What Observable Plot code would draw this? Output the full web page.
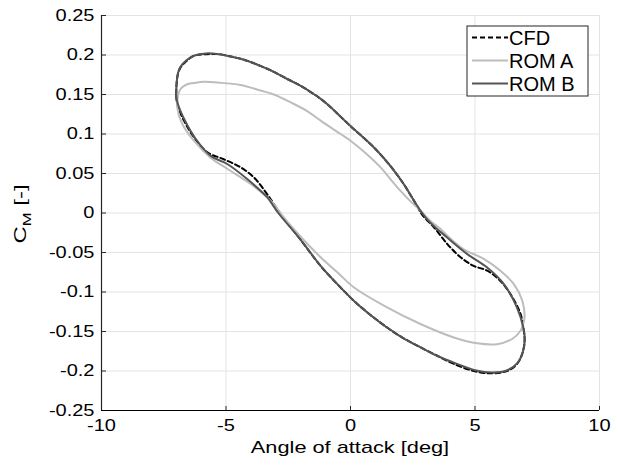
<!DOCTYPE html>
<html>
<head>
<meta charset="utf-8">
<script src="https://cdn.jsdelivr.net/npm/d3@7"></script>
<script src="https://cdn.jsdelivr.net/npm/@observablehq/plot@0.6"></script>
<style>
  html, body { margin: 0; padding: 0; background: #fff; }
  #chart { width: 618px; height: 465px; }
  svg { display: block; }
</style>
</head>
<body>
<div id="chart"></div>
<script>
// ---- Data ----
const xTicks = [-10, -5, 0, 5, 10];
const yTicks = [-0.25, -0.2, -0.15, -0.1, -0.05, 0, 0.05, 0.1, 0.15, 0.2, 0.25];

const seriesNames = ["CFD", "ROM A", "ROM B"];

const cfdAlpha = [-7.00, -6.98, -6.93, -6.83, -6.60, -6.29, -5.80, -5.29, -4.80, -4.28, -3.60, -3.10, -2.50, -2.00, -1.40, -0.94, -0.40, 0.00, 0.50, 0.94, 1.35, 1.74, 2.15, 2.54, 2.90, 3.35, 3.88, 4.42, 4.95, 5.49, 6.02, 6.43, 6.83, 6.96, 6.99, 6.90, 6.69, 6.29, 5.62, 4.95, 4.15, 3.50, 2.81, 2.10, 1.47, 0.80, 0.13, -0.53, -1.20, -2.00, -2.81, -3.35, -3.88, -4.42, -5.09, -5.76, -6.29, -6.69, -6.96, -7.00];
const cfdCm = [0.150, 0.165, 0.176, 0.184, 0.192, 0.199, 0.201, 0.201, 0.198, 0.194, 0.186, 0.179, 0.169, 0.161, 0.149, 0.138, 0.122, 0.110, 0.096, 0.083, 0.069, 0.054, 0.036, 0.016, -0.003, -0.018, -0.039, -0.056, -0.067, -0.073, -0.086, -0.103, -0.128, -0.149, -0.162, -0.178, -0.191, -0.200, -0.203, -0.200, -0.191, -0.181, -0.170, -0.158, -0.145, -0.129, -0.111, -0.090, -0.067, -0.034, -0.001, 0.024, 0.045, 0.058, 0.068, 0.077, 0.096, 0.117, 0.138, 0.150];

const romAAlpha = [-6.92, -6.80, -6.56, -6.20, -5.89, -5.29, -4.42, -3.61, -3.08, -2.40, -1.74, -1.20, -0.40, 0.00, 0.60, 1.20, 1.60, 2.01, 2.40, 2.81, 3.21, 3.61, 4.00, 4.55, 5.35, 6.02, 6.56, 6.90, 6.99, 6.92, 6.83, 6.49, 5.89, 5.09, 4.15, 2.81, 1.47, 0.13, -0.53, -1.20, -2.00, -2.68, -3.21, -4.02, -4.95, -5.62, -6.29, -6.76, -6.96, -6.92];
const romACm = [0.150, 0.158, 0.163, 0.165, 0.166, 0.165, 0.162, 0.155, 0.150, 0.140, 0.129, 0.117, 0.100, 0.0915, 0.076, 0.058, 0.043, 0.028, 0.015, 0.003, -0.010, -0.020, -0.032, -0.046, -0.058, -0.073, -0.090, -0.111, -0.132, -0.142, -0.149, -0.1595, -0.166, -0.165, -0.1575, -0.1405, -0.1195, -0.094, -0.075, -0.056, -0.030, -0.0055, 0.016, 0.037, 0.056, 0.070, 0.0915, 0.113, 0.134, 0.150];

const romBAlpha = [-7.00, -6.98, -6.93, -6.83, -6.60, -6.29, -5.80, -5.29, -4.80, -4.28, -3.60, -3.10, -2.50, -2.00, -1.40, -0.94, -0.40, 0.00, 0.50, 0.94, 1.35, 1.74, 2.15, 2.54, 3.08, 3.88, 4.69, 5.49, 6.16, 6.69, 6.94, 7.00, 6.92, 6.70, 6.30, 5.70, 5.00, 4.20, 3.50, 2.81, 2.10, 1.47, 0.80, 0.13, -0.53, -1.20, -2.00, -2.90, -3.35, -4.15, -4.95, -5.60, -6.20, -6.65, -6.95, -7.00];
const romBCm = [0.150, 0.166, 0.177, 0.185, 0.193, 0.199, 0.202, 0.201, 0.198, 0.194, 0.186, 0.179, 0.169, 0.161, 0.149, 0.138, 0.122, 0.110, 0.096, 0.083, 0.069, 0.054, 0.036, 0.016, -0.008, -0.031, -0.052, -0.069, -0.090, -0.120, -0.145, -0.160, -0.176, -0.190, -0.199, -0.202, -0.199, -0.190, -0.181, -0.170, -0.158, -0.145, -0.129, -0.111, -0.090, -0.067, -0.034, 0.000, 0.020, 0.043, 0.062, 0.072, 0.093, 0.117, 0.140, 0.150];

// ---- Build rows for the library ----
const toRows = (xs, ys) => xs.map((x, i) => ({alpha: x, cm: ys[i]}));
const cfdRows = toRows(cfdAlpha, cfdCm);
const romARows = toRows(romAAlpha, romACm);
const romBRows = toRows(romBAlpha, romBCm);

const styles = {
  "CFD":   {stroke: "#000000", dash: "5,3"},
  "ROM A": {stroke: "#bdbdbd", dash: null},
  "ROM B": {stroke: "#555555", dash: null}
};

const fmt = d => String(Math.round(d * 100) / 100);
const FONT = "'Liberation Sans', Arial, Helvetica, sans-serif";

const plot = Plot.plot({
  width: 618,
  height: 465,
  marginLeft: 101,
  marginRight: 19,
  marginTop: 15,
  marginBottom: 55,
  style: {fontFamily: FONT, fontSize: "16px", background: "#fff", color: "#000", overflow: "visible"},
  x: {domain: [-10, 10], label: null},
  y: {domain: [-0.25, 0.25], label: null},
  marks: [
    Plot.gridX(xTicks, {stroke: "#e3e3e3", strokeOpacity: 1, strokeWidth: 1}),
    Plot.gridY(yTicks, {stroke: "#e3e3e3", strokeOpacity: 1, strokeWidth: 1}),
    Plot.line(cfdRows, {x: "alpha", y: "cm", stroke: styles["CFD"].stroke, strokeWidth: 2, strokeDasharray: styles["CFD"].dash, curve: "catmull-rom"}),
    Plot.line(romARows, {x: "alpha", y: "cm", stroke: styles["ROM A"].stroke, strokeWidth: 2, curve: "catmull-rom"}),
    Plot.line(romBRows, {x: "alpha", y: "cm", stroke: styles["ROM B"].stroke, strokeWidth: 2, curve: "catmull-rom"}),
    // inward tick marks
    Plot.axisX(xTicks, {tickSize: 4, dy: -4, tickFormat: () => "", label: null, stroke: "#262626"}),
    Plot.axisY(yTicks, {tickSize: 5, dx: 5, tickFormat: () => "", label: null, stroke: "#262626"}),
    // tick labels
    Plot.axisX(xTicks, {tickSize: 0, tickPadding: 9, tickFormat: fmt, label: null, fontSize: 16}),
    Plot.axisY(yTicks, {tickSize: 0, tickPadding: 7, tickFormat: fmt, label: null, fontSize: 16}),
    // axis lines (left and bottom)
    Plot.ruleX([-10], {stroke: "#262626", strokeWidth: 1.2}),
    Plot.ruleY([-0.25], {stroke: "#000", strokeWidth: 1.2})
  ]
});

document.getElementById("chart").appendChild(plot);
const svg = d3.select(plot);

// Stretch tick labels horizontally to match the wide axis lettering
svg.selectAll('g[aria-label="x-axis tick label"] text, g[aria-label="y-axis tick label"] text').each(function() {
  const t = this.getAttribute("transform") || "";
  this.setAttribute("transform", t + " scale(1.25,1)");
});

// X axis title
svg.append("text")
  .attr("transform", "translate(350,453) scale(1.28,1)")
  .attr("text-anchor", "middle")
  .attr("font-family", FONT)
  .attr("font-size", 17)
  .attr("fill", "#000")
  .text("Angle of attack [deg]");

// Y axis title: C_M [-]
const yl = svg.append("text")
  .attr("transform", "translate(26,214) rotate(-90) scale(1.45,1)")
  .attr("text-anchor", "middle")
  .attr("font-family", FONT)
  .attr("font-size", 16.5)
  .attr("fill", "#000");
yl.append("tspan").text("C");
yl.append("tspan").attr("font-size", 11.5).attr("dy", 5).text("M");
yl.append("tspan").attr("dy", -5).text(" [-]");

// Legend
const lg = svg.append("g").attr("font-family", FONT).attr("font-size", 20).attr("text-anchor", "start");
lg.append("rect").attr("x", 467).attr("y", 26).attr("width", 121).attr("height", 70)
  .attr("fill", "#fff").attr("stroke", "#262626").attr("stroke-width", 1);
seriesNames.forEach((name, i) => {
  const yy = 37.5 + i * 23;
  lg.append("line").attr("x1", 472).attr("x2", 508).attr("y1", yy).attr("y2", yy)
    .attr("stroke", styles[name].stroke).attr("stroke-width", 2)
    .attr("stroke-dasharray", styles[name].dash);
  lg.append("text").attr("x", 509).attr("y", yy + 7.2).attr("text-anchor", "start").attr("fill", "#000").text(name);
});
</script>
</body>
</html>
